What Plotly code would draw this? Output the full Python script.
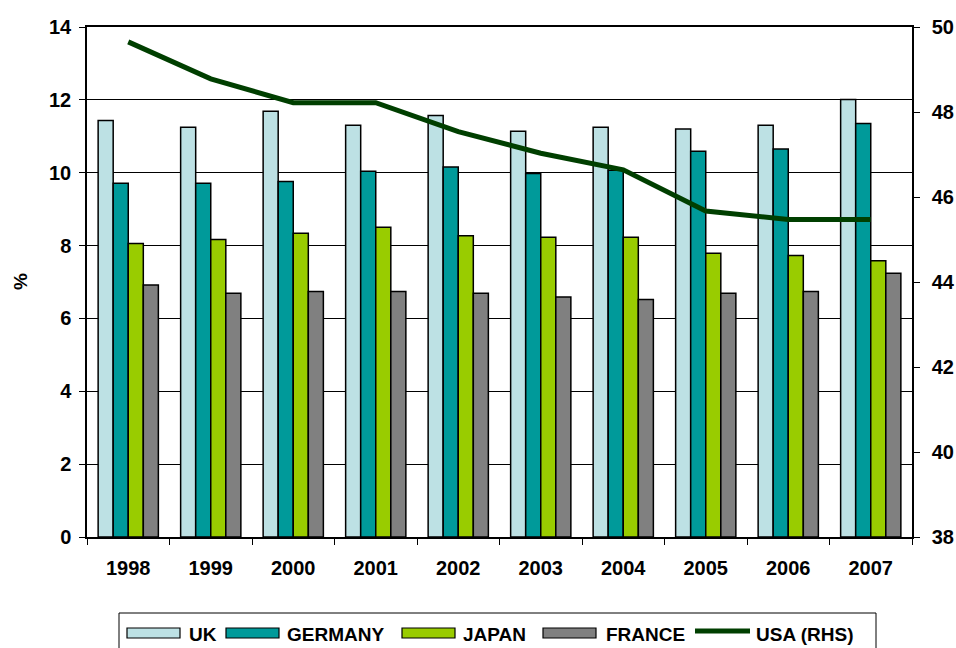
import plotly.graph_objects as go

# Share of GDP by country (%), USA on the right-hand scale
years = ["1998", "1999", "2000", "2001", "2002", "2003", "2004", "2005", "2006", "2007"]
uk = [11.43, 11.25, 11.69, 11.30, 11.57, 11.14, 11.25, 11.20, 11.30, 12.01]
germany = [9.71, 9.71, 9.76, 10.04, 10.16, 9.98, 10.07, 10.59, 10.65, 11.35]
japan = [8.06, 8.17, 8.34, 8.50, 8.27, 8.23, 8.23, 7.79, 7.73, 7.58]
france = [6.92, 6.69, 6.74, 6.74, 6.69, 6.59, 6.52, 6.69, 6.74, 7.24]
usa = [49.65, 48.78, 48.22, 48.22, 47.54, 47.03, 46.64, 45.67, 45.47, 45.47]

bar_series = [
    ("UK", uk, "#BDE1E4"),
    ("GERMANY", germany, "#009A9A"),
    ("JAPAN", japan, "#99CC00"),
    ("FRANCE", france, "#808080"),
]
line_name = "USA (RHS)"
line_color = "#003F00"

FONT = "Liberation Sans"

# plot-area geometry in pixels
W, H = 956, 648
L, R, T, B = 87, 44, 27, 111
PW, PH = W - L - R, H - T - B


def px_x(x):
    return (x - L) / PW


def px_y(y):
    return (H - B - y) / PH


fig = go.Figure()
for name, vals, col in bar_series:
    fig.add_trace(go.Bar(
        x=years, y=vals, name=name,
        marker=dict(color=col, line=dict(color="black", width=1.5)),
        yaxis="y",
    ))

fig.add_trace(go.Scatter(
    x=years, y=usa, name=line_name, mode="lines",
    line=dict(color=line_color, width=5), yaxis="y2",
))

tickfont = dict(family=FONT, size=20, color="black", weight="bold")

fig.update_layout(
    width=W, height=H,
    margin=dict(l=L, r=R, t=T, b=B, autoexpand=False),
    paper_bgcolor="white", plot_bgcolor="white",
    barmode="group", bargap=0.27, bargroupgap=0,
    showlegend=False,
    xaxis=dict(
        type="category", tickson="boundaries", ticks="outside", ticklen=6,
        tickcolor="black", showline=True, linecolor="black", linewidth=1.5,
        mirror=True, showgrid=False, tickfont=tickfont, ticklabelstandoff=12,
        automargin=False,
    ),
    yaxis=dict(
        range=[0, 14], dtick=2, ticks="outside", ticklen=6, tickcolor="black",
        showline=True, linecolor="black", linewidth=1.5,
        showgrid=True, gridcolor="black", gridwidth=1.2, zeroline=False,
        tickfont=tickfont, ticklabelstandoff=4, automargin=False,
    ),
    yaxis2=dict(
        range=[38, 50], dtick=2, overlaying="y", side="right",
        ticks="outside", ticklen=6, tickcolor="black",
        showline=True, linecolor="black", linewidth=1.5,
        showgrid=False, zeroline=False, tickfont=tickfont, ticklabelstandoff=8,
        automargin=False,
    ),
)

annotations = [dict(
    text="%", xref="paper", yref="paper", x=px_x(20), y=px_y(282),
    textangle=-90, showarrow=False, xanchor="center", yanchor="middle",
    font=dict(family=FONT, size=19, color="black", weight="bold"),
)]

# legend drawn below the plot
legend_font = dict(family=FONT, size=19, color="black", weight="bold")
shapes = [dict(
    type="rect", xref="paper", yref="paper",
    x0=px_x(119), x1=px_x(876), y0=px_y(613), y1=px_y(660),
    line=dict(color="black", width=1), fillcolor="white", layer="below",
)]
swatch_x = [127, 226, 402, 543]
text_x = [187, 285, 461, 604]
for (name, _, col), sx, tx in zip(bar_series, swatch_x, text_x):
    shapes.append(dict(
        type="rect", xref="paper", yref="paper",
        x0=px_x(sx), x1=px_x(sx + 53), y0=px_y(628), y1=px_y(638),
        line=dict(color="black", width=1.2), fillcolor=col,
    ))
    annotations.append(dict(
        text=name, xref="paper", yref="paper", x=px_x(tx), y=px_y(634),
        showarrow=False, xanchor="left", yanchor="middle", font=legend_font,
    ))
shapes.append(dict(
    type="line", xref="paper", yref="paper",
    x0=px_x(695), x1=px_x(750), y0=px_y(631), y1=px_y(631),
    line=dict(color=line_color, width=5),
))
annotations.append(dict(
    text=line_name, xref="paper", yref="paper", x=px_x(754), y=px_y(634),
    showarrow=False, xanchor="left", yanchor="middle", font=legend_font,
))

fig.update_layout(shapes=shapes, annotations=annotations)
fig.write_html("out.html")
